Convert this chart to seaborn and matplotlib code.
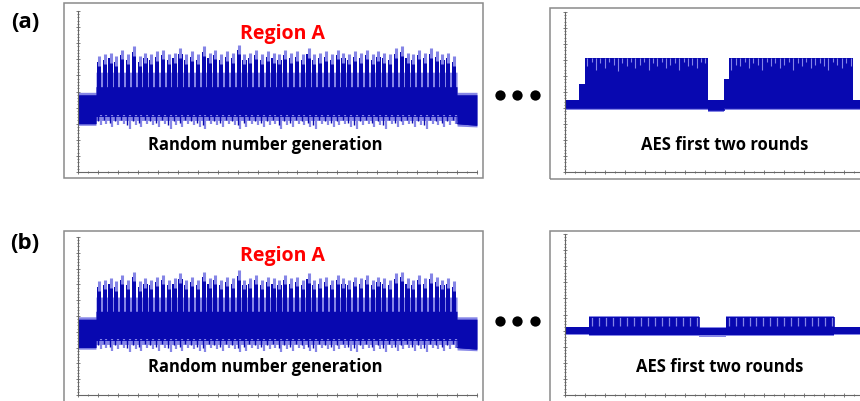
import numpy as np
import seaborn as sns
from matplotlib import pyplot as plt
from matplotlib.patches import Rectangle
from matplotlib.ticker import MultipleLocator

DARK = "#0808b0"
LIGHT = "#8585e6"
FRAME = "#8a8a8a"

# ---- random number generation trace (same capture in (a) and (b)) ----
rng_band_x = [0, 45, 45, 950, 950, 1000]
rng_band_hi = [4.8, 4.8, 5.3, 5.3, 4.8, 4.8]
rng_band_lo = [3.0, 3.0, 3.45, 3.45, 3.0, 2.9]
rng_fringe_hi = [4.95, 4.95, 6.2, 6.2, 4.95, 4.95]
rng_fringe_lo = [2.9, 2.9, 3.2, 3.2, 2.85, 2.8]
rng_peaks = [7.2, 7.3, 7.4, 7.2, 7.6, 7.3, 7.8, 7.2, 7.4, 7.3, 7.5, 7.6, 7.3, 7.4, 7.7, 7.3,
             7.5, 7.3, 7.8, 7.4, 7.6, 7.3, 7.5, 7.4, 7.9, 7.3, 7.4, 7.6, 7.3, 7.5, 7.4, 7.3,
             7.6, 7.4, 7.5, 7.3, 7.7, 7.3, 7.4, 7.5, 7.3, 7.6, 7.4, 7.3, 7.5, 7.4, 7.6, 7.3,
             7.5, 7.4, 7.3, 7.7, 7.8, 7.4, 7.3, 7.6, 7.4, 7.7, 7.5, 7.3, 7.4, 7.2]
rng_dips = [2.9, 3.0, 2.8, 2.9, 3.0, 2.7, 2.9, 2.8, 3.0, 2.9, 2.8, 3.0, 2.7, 2.9, 2.8, 3.0,
            2.9, 2.8, 2.7, 3.0, 2.9, 2.8, 3.0, 2.9, 2.7, 2.8, 3.0, 2.9, 2.8, 2.9, 3.0, 2.7,
            2.9, 2.8, 3.0, 2.9, 2.8, 2.7, 3.0, 2.9, 2.8, 2.9, 3.0, 2.8, 2.7, 2.9, 3.0, 2.8,
            2.9, 2.7, 3.0, 2.8, 2.9, 3.0, 2.8, 2.9, 2.7, 3.0, 2.9, 2.8, 2.9, 3.0]
rng_region = (45, 950)

# ---- AES trace, capture (a) ----
aes_a_x = [0, 35, 35, 50, 50, 358, 358, 398, 398, 411, 411, 722, 722, 850]
aes_a_hi = [4.5, 4.5, 5.5, 5.5, 7.15, 7.15, 4.5, 4.5, 5.8, 5.8, 7.15, 7.15, 4.5, 4.5]
aes_a_lo = [4.0, 4.0, 4.0, 4.0, 4.0, 4.0, 3.9, 3.9, 4.0, 4.0, 4.0, 4.0, 4.0, 4.0]
aes_a_blocks = [(50, 358), (411, 722)]
aes_a_notches = [6.6, 6.9, 6.4, 6.8, 6.5, 6.9, 6.7, 6.3, 6.8, 6.6, 6.9, 6.5, 6.7, 6.9, 6.4,
                 6.8, 6.6, 6.9, 6.5, 6.7, 6.8, 6.4, 6.9, 6.6, 6.7, 6.5, 6.9, 6.8, 6.4, 6.7,
                 6.6, 6.9, 6.5, 6.8, 6.7, 6.4, 6.9, 6.6, 6.8, 6.5, 6.7, 6.9, 6.4, 6.8, 6.6,
                 6.9, 6.5, 6.7, 6.8, 6.6, 6.4, 6.9, 6.7, 6.5, 6.8, 6.6]

# ---- AES trace, capture (b) ----
aes_b_x = [0, 60, 60, 336, 336, 403, 403, 674, 674, 850]
aes_b_hi = [4.2, 4.2, 4.85, 4.85, 4.15, 4.15, 4.85, 4.85, 4.2, 4.2]
aes_b_lo = [3.8, 3.8, 3.75, 3.75, 3.7, 3.7, 3.75, 3.75, 3.8, 3.8]
aes_b_blocks = [(60, 336), (403, 674)]
aes_b_comb = 16


def style_axis(ax, xmax):
    ax.set_xlim(0, xmax)
    ax.set_ylim(0, 10)
    for side in ["top", "right"]:
        ax.spines[side].set_visible(False)
    for side in ["left", "bottom"]:
        ax.spines[side].set_color("#666666")
        ax.spines[side].set_linewidth(0.8)
    ax.xaxis.set_major_locator(MultipleLocator(50))
    ax.xaxis.set_minor_locator(MultipleLocator(25))
    ax.yaxis.set_major_locator(MultipleLocator(1))
    ax.yaxis.set_minor_locator(MultipleLocator(0.2))
    ax.tick_params(which="both", bottom=True, left=True, direction="inout",
                   color="#666666", width=0.6, labelbottom=False, labelleft=False)
    ax.tick_params(which="major", length=3)
    ax.tick_params(which="minor", length=1.5)
    ax.patch.set_alpha(0)


def draw_rng(ax):
    ax.fill_between(rng_band_x, rng_fringe_lo, rng_fringe_hi, color=LIGHT, lw=0)
    ax.fill_between(rng_band_x, rng_band_lo, rng_band_hi, color=DARK, lw=0)
    start, end = rng_region
    step = (end - start) / len(rng_peaks)
    centers = start + step * (np.arange(len(rng_peaks)) + 0.5)
    peaks = np.array(rng_peaks)
    ax.vlines(centers, peaks - 0.6, peaks, color=LIGHT, lw=2.2)
    ax.vlines(centers + step * 0.3, rng_band_lo[2] + 0.1, rng_dips, color=LIGHT, lw=1.6)
    ax.vlines(centers - step * 0.15, rng_band_lo[2] + 0.1, np.array(rng_dips) + 0.25,
              color=DARK, lw=1.0)
    ax.bar(centers, peaks - 0.35 - rng_band_hi[2] + 0.1, bottom=rng_band_hi[2] - 0.1,
           width=step * 0.72, color=DARK, lw=0)
    sns.lineplot(x=rng_band_x, y=rng_band_lo, ax=ax, estimator=None, sort=False,
                 color=DARK, lw=0.6)
    style_axis(ax, 1000)


def draw_aes_a(ax):
    ax.fill_between(aes_a_x, np.array(aes_a_lo) - 0.12, aes_a_hi, color=LIGHT, lw=0)
    ax.fill_between(aes_a_x, aes_a_lo, aes_a_hi, color=DARK, lw=0)
    per = len(aes_a_notches) // 2
    for k, (b0, b1) in enumerate(aes_a_blocks):
        xs = np.linspace(b0 + 6, b1 - 6, per)
        ax.vlines(xs, aes_a_notches[k * per:(k + 1) * per], 7.15, color=LIGHT, lw=0.8)
    sns.lineplot(x=aes_a_x, y=aes_a_lo, ax=ax, estimator=None, sort=False,
                 color=DARK, lw=0.6)
    style_axis(ax, 850)


def draw_aes_b(ax):
    ax.fill_between(aes_b_x, np.array(aes_b_lo) - 0.08, np.array(aes_b_hi) + 0.05,
                    color=LIGHT, lw=0)
    ax.fill_between(aes_b_x, aes_b_lo, aes_b_hi, color=DARK, lw=0)
    for b0, b1 in aes_b_blocks:
        xs = np.linspace(b0 + 8, b1 - 4, aes_b_comb)
        ax.vlines(xs, 4.3, 4.85, color=LIGHT, lw=0.9)
    sns.lineplot(x=aes_b_x, y=aes_b_hi, ax=ax, estimator=None, sort=False,
                 color=DARK, lw=0.6)
    style_axis(ax, 850)


sns.set_theme(style="white")
plt.rcParams["font.family"] = ["Open Sans", "DejaVu Sans"]

W, H = 860, 402
fig = plt.figure(figsize=(W / 100, H / 100), dpi=100)


def px_axes(x0, y0, x1, y1):
    return fig.add_axes([x0 / W, 1 - y1 / H, (x1 - x0) / W, (y1 - y0) / H])


def frame(x0, y0, x1, y1):
    fig.patches.append(Rectangle((x0 / W, 1 - y1 / H), (x1 - x0) / W, (y1 - y0) / H,
                                 transform=fig.transFigure, fill=False,
                                 edgecolor=FRAME, lw=1.1))


def label(x, y, s, **kw):
    fig.text(x / W, 1 - y / H, s, ha="center", va="center", fontweight="bold", **kw)


rows = [
    # tag, left frame, right frame, left axes top, right axes top, x axis, text offset
    ("(a)", (4, 179), (9, 180), 12, 13, 173, 0, draw_aes_a, 725),
    ("(b)", (232, 420), (232, 420), 238, 235, 396, 222, draw_aes_b, 720),
]
for tag, fl, fr, top_l, top_r, bot, yoff, draw_right, aes_x in rows:
    frame(64, fl[0], 483, fl[1])
    frame(550, fr[0], 880, fr[1])
    draw_rng(px_axes(78, top_l, 477, bot))
    draw_right(px_axes(565, top_r, 904, bot))
    label(25, 22 + yoff, tag, fontsize=16, color="black")
    label(283, 34 + yoff, "Region A", fontsize=14, color="red")
    label(265, 145 + yoff, "Random number generation", fontsize=12, color="black")
    label(aes_x, 145 + yoff, "AES first two rounds", fontsize=12, color="black")

# the "..." separators between the two captures
overlay = fig.add_axes([0, 0, 1, 1])
overlay.set_xlim(0, W)
overlay.set_ylim(H, 0)
overlay.axis("off")
sns.scatterplot(x=[500, 517, 535, 500, 517, 535], y=[96, 96, 96, 322, 322, 322],
                ax=overlay, color="black", s=55, linewidth=0)

fig.savefig("out.png", dpi=100)
